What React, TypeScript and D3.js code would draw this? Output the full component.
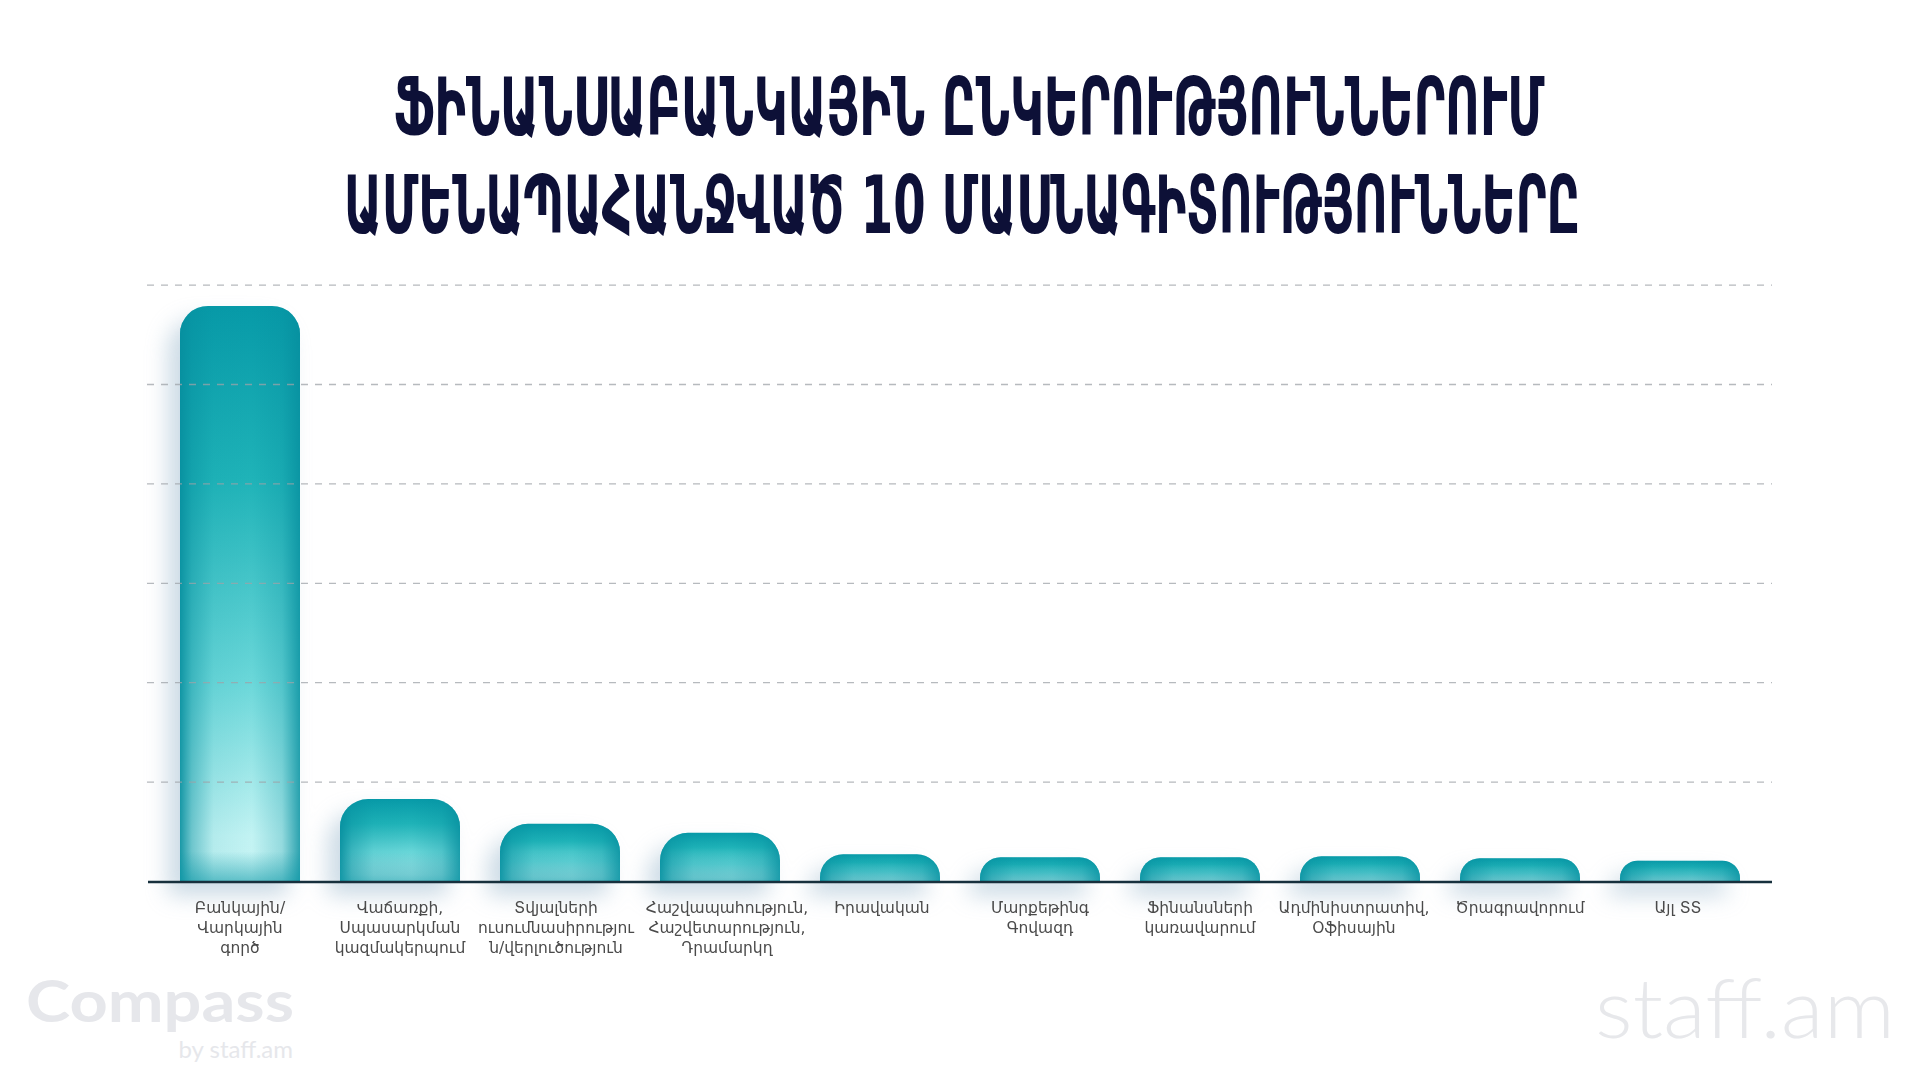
import React from "react";
import * as d3 from "d3";

const titleLines = [
  "ՖԻՆԱՆՍԱԲԱՆԿԱՅԻՆ ԸՆԿԵՐՈՒԹՅՈՒՆՆԵՐՈՒՄ",
  "ԱՄԵՆԱՊԱՀԱՆՋՎԱԾ 10 ՄԱՍՆԱԳԻՏՈՒԹՅՈՒՆՆԵՐԸ",
];

const categories = [
  "Բանկային/\nՎարկային\nգործ",
  "Վաճառքի,\nՍպասարկման\nկազմակերպում",
  "Տվյալների\nուսումնասիրությու\nն/վերլուծություն",
  "Հաշվապահություն,\nՀաշվետարություն,\nԴրամարկղ",
  "Իրավական",
  "Մարքեթինգ\nԳովազդ",
  "Ֆինանսների\nկառավարում",
  "Ադմինիստրատիվ,\nՕֆիսային",
  "Ծրագրավորում",
  "Այլ ՏՏ",
];

const values = [57.9, 8.3, 5.8, 4.9, 2.75, 2.45, 2.45, 2.55, 2.35, 2.1];

const yTicks = [0, 10, 20, 30, 40, 50, 60];

const W = 1920;
const H = 1080;

// small horizontal nudges of the wrapped labels, as laid out in the reference
const labelNudge = [0, 0, -4, 7, 2, 0, 0, -6, 0, -2];

export default function App() {
  const x = d3.scaleBand<string>().domain(categories).range([160, 1760]).paddingInner(0.25).paddingOuter(0.125);
  const y = d3.scaleLinear().domain([0, 60]).range([881.5, 285.1]);
  const base = y(0);
  const bw = x.bandwidth();

  const barPath = (c: string, v: number) => {
    const x0 = x(c)!;
    const top = y(v);
    const h = base - top;
    const r = Math.min(28, h * 0.85);
    return `M${x0},${base} V${top + r} A${r},${r} 0 0 1 ${x0 + r},${top} H${x0 + bw - r} A${r},${r} 0 0 1 ${x0 + bw},${top + r} V${base} Z`;
  };

  const gridLeft = 147;
  const gridRight = 1772;

  return (
    <svg
      width={W}
      height={H}
      viewBox={`0 0 ${W} ${H}`}
      style={{ position: "absolute", left: 0, top: 0, display: "block", background: "#ffffff" }}
    >
      <defs>
        <linearGradient id="barGrad" x1="0" y1="0" x2="0" y2="1">
          <stop offset="0" stopColor="#079aa8" />
          <stop offset="0.3" stopColor="#1fb3b8" />
          <stop offset="0.65" stopColor="#6ad7d9" />
          <stop offset="0.92" stopColor="#c2f3f3" />
          <stop offset="1" stopColor="#c8f4f4" />
        </linearGradient>
        <linearGradient id="edgeGrad" x1="0" y1="0" x2="1" y2="0">
          <stop offset="0" stopColor="#068e9e" stopOpacity="0.9" />
          <stop offset="0.1" stopColor="#068e9e" stopOpacity="0.45" />
          <stop offset="0.28" stopColor="#068e9e" stopOpacity="0.08" />
          <stop offset="0.6" stopColor="#068e9e" stopOpacity="0" />
          <stop offset="0.85" stopColor="#068e9e" stopOpacity="0.25" />
          <stop offset="1" stopColor="#068e9e" stopOpacity="0.8" />
        </linearGradient>
        <linearGradient id="bottomGrad" gradientUnits="userSpaceOnUse" x1="0" y1={base - 30} x2="0" y2={base}>
          <stop offset="0" stopColor="#0a97a6" stopOpacity="0" />
          <stop offset="1" stopColor="#0a97a6" stopOpacity="0.55" />
        </linearGradient>
        <filter id="outerShadow" filterUnits="userSpaceOnUse" x="0" y="0" width={W} height={H}>
          <feGaussianBlur stdDeviation="11" />
        </filter>
      </defs>

      <rect x={0} y={0} width={W} height={H} fill="#ffffff" />

      {/* watermark logos */}
      <text
        x={26}
        y={1022}
        fontFamily="Lato, 'Open Sans', sans-serif"
        fontWeight={700}
        fontSize={58}
        fill="#e6e7eb"
        textLength={268}
        lengthAdjust="spacingAndGlyphs"
      >
        Compass
      </text>
      <text
        x={293}
        y={1058}
        textAnchor="end"
        fontFamily="Lato, 'Open Sans', sans-serif"
        fontWeight={400}
        fontSize={24}
        fill="#e6e7eb"
      >
        by staff.am
      </text>
      <text
        x={1595}
        y={1038}
        fontFamily="Lato, 'Open Sans', sans-serif"
        fontWeight={300}
        fontSize={82}
        fill="#e7e8eb"
        textLength={300}
        lengthAdjust="spacingAndGlyphs"
      >
        staff.am
      </text>

      {/* title */}
      <g fontFamily="'DejaVu Sans Condensed', 'DejaVu Sans', sans-serif" fontWeight={700} fill="#0d1037">
        <text x={969} y={135} fontSize={80} textAnchor="middle" textLength={1151} lengthAdjust="spacingAndGlyphs">
          {titleLines[0]}
        </text>
        <text x={962} y={233} fontSize={80} textAnchor="middle" textLength={1236} lengthAdjust="spacingAndGlyphs">
          {titleLines[1]}
        </text>
      </g>

      {/* bar shadows */}
      <g filter="url(#outerShadow)" opacity={0.6}>
        {categories.map((c, i) => (
          <path key={c} d={barPath(c, values[i])} transform="translate(-12,14)" fill="#a9c2d4" />
        ))}
      </g>

      {/* bars */}
      <g>
        {categories.map((c, i) => {
          const d = barPath(c, values[i]);
          return (
            <g key={c}>
              <path d={d} fill="url(#barGrad)" />
              <path d={d} fill="url(#edgeGrad)" />
              <path d={d} fill="url(#bottomGrad)" />
            </g>
          );
        })}
      </g>

      {/* gridlines */}
      <g>
        {yTicks.slice(1).map((t) => (
          <line
            key={t}
            x1={gridLeft}
            x2={gridRight}
            y1={y(t)}
            y2={y(t)}
            stroke="#9ea3a8"
            strokeWidth={1.3}
            strokeDasharray="7 7"
            opacity={0.75}
          />
        ))}
      </g>

      {/* baseline */}
      <line x1={148} x2={1772} y1={base + 0.5} y2={base + 0.5} stroke="#17303d" strokeWidth={2.5} />

      {/* category labels */}
      <g fontFamily="'DejaVu Sans', sans-serif" fontSize={15.5} fill="#4a4a4a" textAnchor="middle">
        {categories.map((c, i) => {
          const cx = x(c)! + bw / 2 + labelNudge[i];
          return (
            <text key={c} x={cx} y={913}>
              {c.split("\n").map((line, j) => (
                <tspan key={j} x={cx} y={913 + j * 20}>
                  {line}
                </tspan>
              ))}
            </text>
          );
        })}
      </g>
    </svg>
  );
}
